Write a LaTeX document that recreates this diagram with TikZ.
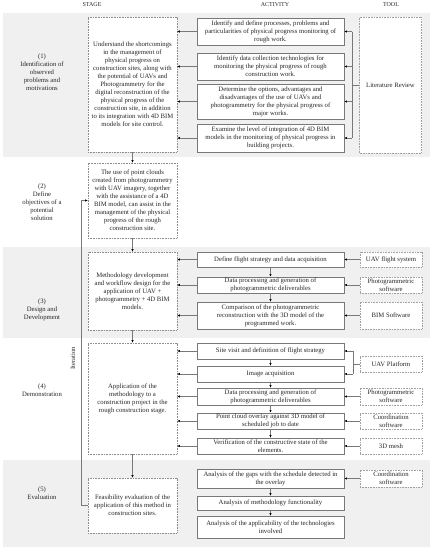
\documentclass[tikz,border=0pt]{standalone}
\usepackage{fontspec}
\setmainfont{Liberation Serif}
\usetikzlibrary{arrows.meta}
\definecolor{bandgray}{RGB}{240,240,240}
\definecolor{linegray}{RGB}{120,120,120}
\definecolor{stagegray}{RGB}{140,140,140}
\definecolor{toolgray}{RGB}{160,160,160}
\definecolor{txt}{RGB}{40,40,40}
\begin{document}
\begin{tikzpicture}[x=1pt,y=-1pt,
  every node/.style={font=\fontsize{6.7}{8}\selectfont, text=txt, align=center, inner sep=1pt},
  stagebox/.style={draw=stagegray, dash pattern=on 0.8pt off 0.8pt, fill=white, minimum width=89pt},
  actbox/.style={draw=linegray, fill=white, minimum width=147pt, line width=0.5pt},
  toolbox/.style={draw=toolgray, dash pattern=on 0.8pt off 0.8pt, fill=white, minimum width=62pt},
  header/.style={font=\fontsize{6}{7}\selectfont},
  conn/.style={draw=linegray, line width=0.4pt},
  arr/.style={conn, -{Latex[length=2.6pt,width=2.2pt,color=black]}}
]
\useasboundingbox (0,0) rectangle (432,550);
% bands
\fill[bandgray] (3,13) rectangle (430,157);
\fill[bandgray] (3,247) rectangle (430,338);
\fill[bandgray] (3,460) rectangle (430,547);

% headers
\node[header] (hstage) at (92,5) {STAGE};
\node[header] (hact) at (275,5) {ACTIVITY};
\node[header] (htool) at (391,5) {TOOL};

% stage labels
\node (l1) at (42,72.5) {(1)\\Identification of\\observed\\problems and\\motivations};
\node (l2) at (42,202.5) {(2)\\Define\\objectives of a\\potential\\solution};
\node (l3) at (42,309.5) {(3)\\Design and\\Development};
\node (l4) at (42,390) {(4)\\Demonstration};
\node (l5) at (42,493) {(5)\\Evaluation};

% stage boxes
\node[stagebox, minimum height=135pt] (s1) at (132.5,84.5) {Understand the shortcomings\\in the management of\\physical progress on\\construction sites, along with\\the potential of UAVs and\\Photogrammetry for the\\digital reconstruction of the\\physical progress of the\\construction site, in addition\\to its integration with 4D BIM\\models for site control.};
\node[stagebox, minimum height=75pt] (s2) at (132.5,200.5) {The use of point clouds\\created from photogrammetry\\with UAV imagery, together\\with the assistance of a 4D\\BIM model, can assist in the\\management of the physical\\progress of the rough\\construction site.};
\node[stagebox, minimum height=78pt] (s3) at (132.5,291) {Methodology development\\and workflow design for the\\application of UAV +\\photogrammetry + 4D BIM\\models.};
\node[stagebox, minimum height=111pt] (s4) at (132.5,398.5) {Application of the\\methodology to a\\construction project in the\\rough construction stage.};
\node[stagebox, minimum height=55pt] (s5) at (132.5,505.5) {Feasibility evaluation of the\\application of this method in\\construction sites.};

% band 1 activities
\node[actbox, minimum height=27pt] (a1) at (270.5,31.5) {Identify and define processes, problems and\\particularities of physical progress monitoring of\\rough work.};
\node[actbox, minimum height=27pt] (a2) at (270.5,66.5) {Identify data collection technologies for\\monitoring the physical progress of rough\\construction work.};
\node[actbox, minimum height=35pt] (a3) at (270.5,101.5) {Determine the options, advantages and\\disadvantages of the use of UAVs and\\photogrammetry for the physical progress of\\major works.};
\node[actbox, minimum height=28pt] (a4) at (270.5,138) {Examine the level of integration of 4D BIM\\models in the monitoring of physical progress in\\building projects.};
\node[toolbox, minimum height=136pt] (lit) at (390.5,85) {Literature Review};

% band 3 activities
\node[actbox, minimum height=15pt] (b1) at (270.5,259.5) {Define flight strategy and data acquisition};
\node[actbox, minimum height=16pt] (b2) at (270.5,285) {Data processing and generation of\\photogrammetric deliverables};
\node[actbox, minimum height=27pt] (b3) at (270.5,315.5) {Comparison of the photogrammetric\\reconstruction with the 3D model of the\\programmed work.};
\node[toolbox, minimum height=15pt] (t1) at (391,259.5) {UAV flight system};
\node[toolbox, minimum height=16pt] (t2) at (391,285) {Photogrammetric\\software};
\node[toolbox, minimum height=27pt] (t3) at (391,315.5) {BIM Software};

% band 4 activities
\node[actbox, minimum height=16pt] (d1) at (270.5,351) {Site visit and definition of flight strategy};
\node[actbox, minimum height=16pt] (d2) at (270.5,374) {Image acquisition};
\node[actbox, minimum height=17pt] (d3) at (270.5,396.5) {Data processing and generation of\\photogrammetric deliverables};
\node[actbox, minimum height=16pt] (d4) at (270.5,421) {Point cloud overlay against 3D model of\\scheduled job to date};
\node[actbox, minimum height=16pt] (d5) at (270.5,446) {Verification of the constructive state of the\\elements.};
\node[toolbox, minimum height=16pt] (u1) at (391,364) {UAV Platform};
\node[toolbox, minimum height=17pt] (u2) at (391,396.5) {Photogrammetric\\software};
\node[toolbox, minimum height=16pt] (u3) at (391,421) {Coordination\\software};
\node[toolbox, minimum height=16pt] (u4) at (391,446) {3D mesh};

% band 5 activities
\node[actbox, minimum height=19pt] (e1) at (270.5,478.5) {Analysis of the gaps with the schedule detected in\\the overlay};
\node[actbox, minimum height=14pt] (e2) at (270.5,503) {Analysis of methodology functionality};
\node[actbox, minimum height=22pt] (e3) at (270.5,527) {Analysis of the applicability of the technologies\\involved};
\node[toolbox, minimum height=17pt] (v1) at (391,478.5) {Coordination\\software};

% stage flow
\draw[arr] (s1.south) -- (s2.north);
\draw[arr] (s2.south) -- (s3.north);
\draw[arr] (s3.south) -- (s4.north);
\draw[arr] (s4.south) -- (s5.north);

% iteration
\draw[arr] (s5.west) -- ++(-7,0) |- (s2.west);
\node[rotate=90] (iter) at (73,358) {Iteration};

% activity -> stage
\foreach \a/\s in {a1/s1,a2/s1,a3/s1,a4/s1,b1/s3,b2/s3,b3/s3,d1/s4,d2/s4,d3/s4,d4/s4,d5/s4}
  \draw[arr] (\a.west) -- (\a.west -| \s.east);

% activity sequences
\foreach \p/\q in {b1/b2,b2/b3,d1/d2,d2/d3,d3/d4,d4/d5,e1/e2,e2/e3}
  \draw[arr] (\p.south) -- (\q.north);

% band 1 bracket
\coordinate (br1) at (352,85);
\draw[conn] (lit.west) -- (br1);
\draw[conn] (a1.east -| br1) -- (a4.east -| br1);
\foreach \a in {a1,a2,a3,a4}
  \draw[arr] (\a.east -| br1) -- (\a.east);

% tools -> activities
\foreach \t/\a in {t1/b1,t2/b2,t3/b3,u2/d3,u3/d4,u4/d5,v1/e1}
  \draw[arr] (\t.west) -- (\t.west -| \a.east);

% band 4 bracket
\coordinate (br2) at (353,364);
\draw[conn] (u1.west) -- (br2);
\draw[conn] (d1.east -| br2) -- (d2.east -| br2);
\foreach \a in {d1,d2}
  \draw[arr] (\a.east -| br2) -- (\a.east);
\end{tikzpicture}
\end{document}
